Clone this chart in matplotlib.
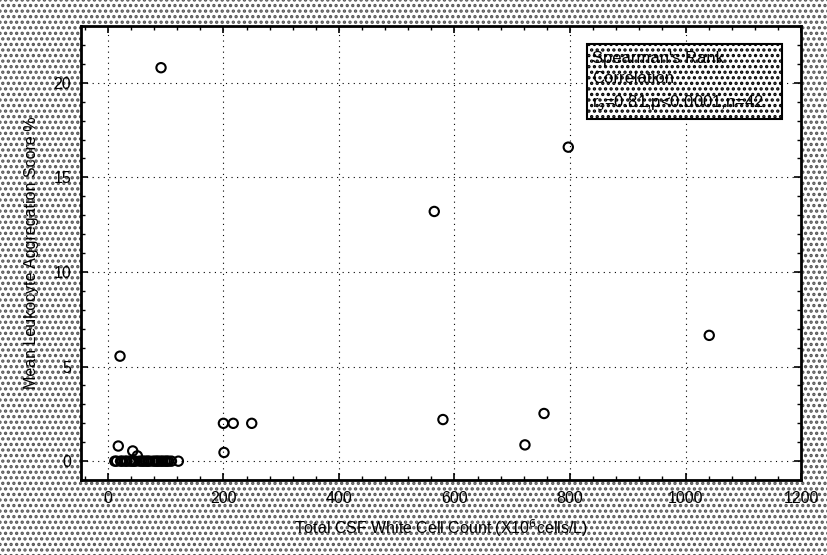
import matplotlib.pyplot as plt
from matplotlib.patches import Rectangle
from matplotlib.ticker import MultipleLocator

plt.rcParams['font.family'] = ['Liberation Sans', 'DejaVu Sans']
plt.rcParams['hatch.linewidth'] = 1.6

# CSF white cell count (x10^6 cells/L) vs mean aggregation score (%)
cell_count = [92, 21, 18, 43, 51, 200, 217, 249, 201, 565, 580, 722, 755, 797, 1041,
              12, 15, 22, 25, 30, 33, 38, 42, 45, 48, 55, 59, 62, 66, 69, 72,
              78, 82, 85, 88, 92, 95, 99, 102, 105, 110, 122]
agg_score = [20.8, 5.55, 0.8, 0.54, 0.28, 2.0, 2.0, 2.0, 0.46, 13.2, 2.2, 0.86, 2.52, 16.6, 6.65,
             0, 0, 0, 0, 0, 0, 0, 0, 0, 0, 0, 0, 0, 0, 0, 0,
             0, 0, 0, 0, 0, 0, 0, 0, 0, 0, 0]

stats_text = "Spearman's Rank\nCorrelation\nr$_s$=0.81,p<0.0001,n=42"

fig = plt.figure(figsize=(8.28, 5.55), dpi=100)
# dithered grey background like the scanned original
fig.patches.append(Rectangle((0, 0), 1, 1, transform=fig.transFigure, facecolor='white',
                             edgecolor='#555555', hatch='...', linewidth=0, zorder=-10))
ax = fig.add_axes([0.0975, 0.135, 0.87, 0.818])
ax.set_facecolor('white')

ax.scatter(cell_count, agg_score, s=45, facecolors='none', edgecolors='black',
           linewidths=1.5, zorder=3)

ax.set_xlim(-47, 1200)
ax.set_ylim(-1, 23)
ax.xaxis.set_major_locator(MultipleLocator(200))
ax.xaxis.set_minor_locator(MultipleLocator(40))
ax.yaxis.set_major_locator(MultipleLocator(5))
ax.yaxis.set_minor_locator(MultipleLocator(1))
ax.tick_params(which='both', direction='in', top=True, right=True, labelsize=11.5)
ax.tick_params(axis='x', which='major', pad=8)
ax.tick_params(axis='y', which='major', pad=7)
ax.tick_params(which='major', length=5, width=1.2)
ax.tick_params(which='minor', length=3, width=1)
ax.grid(True, which='major', linestyle=(0, (1, 4)), color='black', linewidth=0.8)
for sp in ax.spines.values():
    sp.set_linewidth(2)

ax.set_xlabel('Total CSF White Cell Count (X10$^6$cells/L)', fontsize=11.5, labelpad=8)
ax.set_ylabel('Mean Leukocyte Aggregation Score %', fontsize=11.5, labelpad=10)

# statistics box
ax.add_patch(Rectangle((0.703, 0.795), 0.271, 0.165, transform=ax.transAxes,
                       facecolor='white', edgecolor='black', hatch='...',
                       linewidth=1.5, zorder=5))
ax.text(0.71, 0.945, stats_text, transform=ax.transAxes, ha='left', va='top',
        fontsize=12, linespacing=1.45, zorder=6)

fig.savefig('out.png', dpi=100)
